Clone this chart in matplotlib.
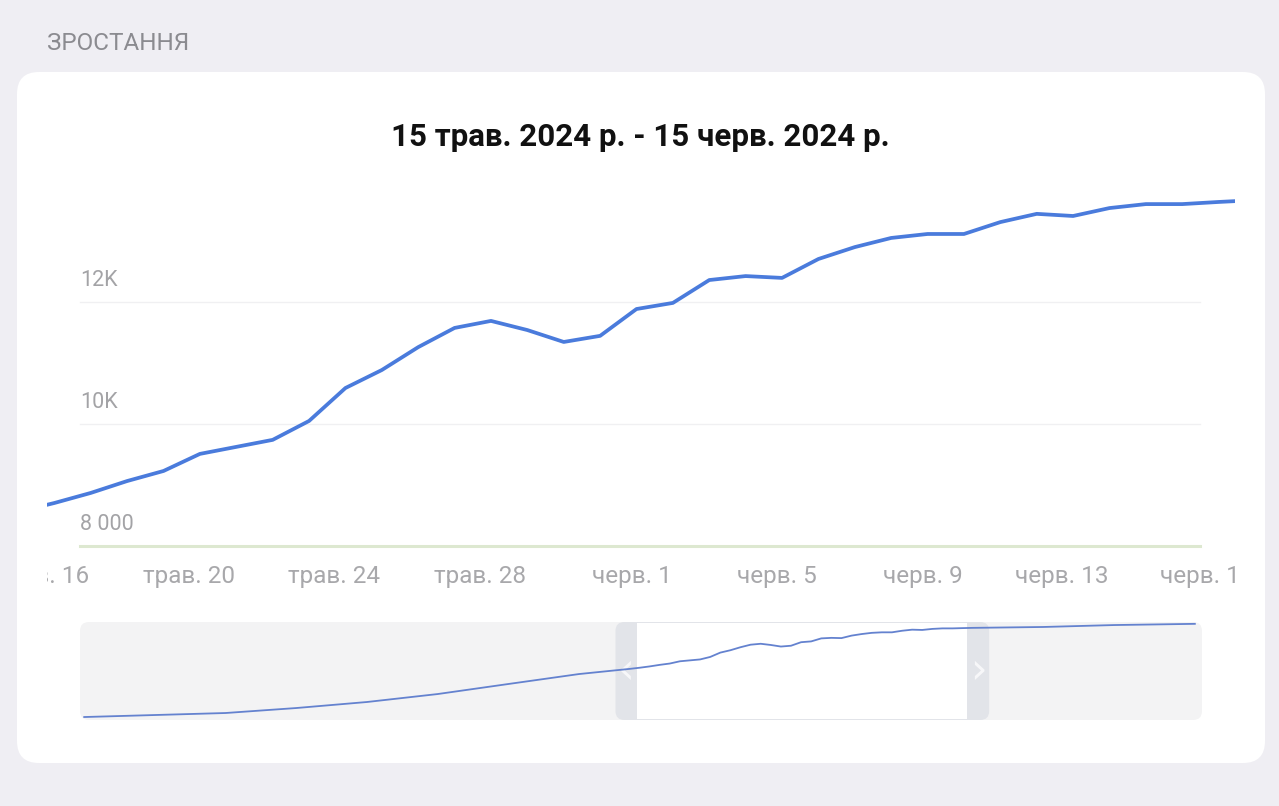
import matplotlib
matplotlib.use("Agg")
import matplotlib.pyplot as plt
import matplotlib.dates as mdates
import numpy as np
from datetime import datetime, timedelta
from matplotlib.patches import FancyBboxPatch, Rectangle
from matplotlib.transforms import Bbox, IdentityTransform, blended_transform_factory, offset_copy

plt.rcParams['font.family'] = ['Roboto', 'DejaVu Sans']

# daily subscriber count shown in the main chart
dates = np.arange('2024-05-15', '2024-06-19', dtype='datetime64[D]').astype(datetime)
values = [8560, 8705, 8870, 9065, 9230, 9510, 9625, 9740, 10050, 10590, 10885,
          11260, 11575, 11690, 11540, 11345, 11445, 11885, 11985, 12360, 12425,
          12395, 12705, 12900, 13050, 13115, 13115, 13310, 13445, 13410, 13540,
          13605, 13605, 13640, 13670]

# overview (navigator) parts outside the selected window
early_dates = [datetime(2024, 3, 22), datetime(2024, 3, 29), datetime(2024, 4, 5),
               datetime(2024, 4, 12), datetime(2024, 4, 19), datetime(2024, 4, 26),
               datetime(2024, 5, 3), datetime(2024, 5, 10)]
early_values = [2570, 2820, 3070, 3690, 4440, 5430, 6680, 7920]
late_dates = [datetime(2024, 6, 25), datetime(2024, 7, 2), datetime(2024, 7, 10)]
late_values = [13780, 14020, 14170]

tick_dates = [datetime(2024, 5, 16), datetime(2024, 5, 20), datetime(2024, 5, 24),
              datetime(2024, 5, 28), datetime(2024, 6, 1), datetime(2024, 6, 5),
              datetime(2024, 6, 9), datetime(2024, 6, 13), datetime(2024, 6, 17)]
tick_labels = ['трав. 16', 'трав. 20', 'трав. 24', 'трав. 28', 'черв. 1',
               'черв. 5', 'черв. 9', 'черв. 13', 'черв. 17']
y_ticks = [8000, 10000, 12000]
y_labels = ['8 000', '10K', '12K']

title = '15 трав. 2024 р. - 15 черв. 2024 р.'
header = 'ЗРОСТАННЯ'

W, H = 1279, 806
fig = plt.figure(figsize=(W / 100, H / 100), dpi=100)
fig.patch.set_facecolor('#efeef3')
pix = IdentityTransform()


def px_rect(x0, y0, x1, y1):
    # pixel box (top-left origin) -> figure fraction [left, bottom, width, height]
    return [x0 / W, (H - y1) / H, (x1 - x0) / W, (y1 - y0) / H]


# white card
fig.add_artist(FancyBboxPatch((17, H - 763), 1248, 691,
                              boxstyle='round,pad=0,rounding_size=22',
                              fc='white', ec='none', transform=pix, zorder=0))
fig.text(47, H - 43, header, transform=pix, fontsize=17.5, color='#8b8b90',
         va='center', ha='left')
fig.text(640, H - 137, title, transform=pix, fontsize=22.5, fontweight='bold',
         color='#111111', va='center', ha='center')

# main chart
ax = fig.add_axes(px_rect(47, 190, 1235, 546))
ax.set_zorder(3)
ax.set_facecolor('none')
for s in ax.spines.values():
    s.set_visible(False)
ax.set_xticks([])
ax.set_yticks([])
x_left = datetime(2024, 5, 15) + timedelta(days=0.797)
x_right = datetime(2024, 5, 15) + timedelta(days=33.45)
ax.set_xlim(x_left, x_right)
ax.set_ylim(8000, 8000 + 356 / 0.061)

gx0, gx1 = 33 / 1188, 1153 / 1188
for v in y_ticks[1:]:
    ax.axhline(v, xmin=gx0, xmax=gx1, color='#f0f0f2', lw=1, zorder=1)
ax.axhline(y_ticks[0], xmin=gx0, xmax=gx1, color='#dde8d0', lw=2.2, zorder=1,
           clip_on=False)

ax.plot(dates, values, color='#4a7bdc', lw=2.7, solid_capstyle='round',
        solid_joinstyle='round', zorder=3)

ylab_tr = offset_copy(blended_transform_factory(ax.transAxes, ax.transData),
                      fig=fig, x=0, y=16, units='dots')
for v, lab in zip(y_ticks, y_labels):
    ax.text(gx0, v, lab, transform=ylab_tr, ha='left', va='baseline',
            fontsize=15.5, color='#a3a3a6')

# tick labels scroll with the chart, so they are cut at the chart's edges
clip = Bbox.from_extents(47, 0, 1235, H)
xlab_tr = offset_copy(blended_transform_factory(ax.transData, ax.transAxes),
                      fig=fig, x=35, y=-31, units='dots')
for d, lab in zip(tick_dates, tick_labels):
    t = ax.text(d, 0, lab, transform=xlab_tr, ha='right', va='center',
                fontsize=17.5, color='#a8a8ab', clip_on=True)
    t.set_clip_box(clip)

# navigator
nav = fig.add_axes(px_rect(80, 622, 1202, 720))
nav.set_zorder(3)
nav.set_facecolor('none')
for s in nav.spines.values():
    s.set_visible(False)
nav.set_xticks([])
nav.set_yticks([])
nav.set_xlim(datetime(2024, 3, 21, 14), datetime(2024, 7, 10, 17))
nav.set_ylim(2200, 14400)

fig.add_artist(FancyBboxPatch((80, H - 720), 1122, 98,
                              boxstyle='round,pad=0,rounding_size=9',
                              fc='#f3f3f4', ec='none', transform=pix, zorder=1))
wx0 = nav.transData.transform((mdates.date2num(x_left), 0))[0]
wx1 = nav.transData.transform((mdates.date2num(x_right), 0))[0]
fig.add_artist(FancyBboxPatch((wx0 - 22, H - 720), wx1 - wx0 + 44, 98,
                              boxstyle='round,pad=0,rounding_size=9',
                              fc='#e2e4e9', ec='none', transform=pix, zorder=1))
fig.add_artist(Rectangle((wx0, H - 719), wx1 - wx0, 96, fc='white', ec='none',
                         transform=pix, zorder=1))
fig.text(wx0 - 11, H - 671, '‹', transform=pix, ha='center', va='center',
         fontsize=30, color='#f7f7f9', family='DejaVu Sans', zorder=2)
fig.text(wx1 + 11, H - 671, '›', transform=pix, ha='center', va='center',
         fontsize=30, color='#f7f7f9', family='DejaVu Sans', zorder=2)

nav_dates = early_dates + list(dates) + late_dates
nav_values = early_values + values + late_values
nav.plot(nav_dates, nav_values, color='#6482cf', lw=1.3, zorder=3)

fig.savefig('out.png', dpi=100, facecolor=fig.get_facecolor())
